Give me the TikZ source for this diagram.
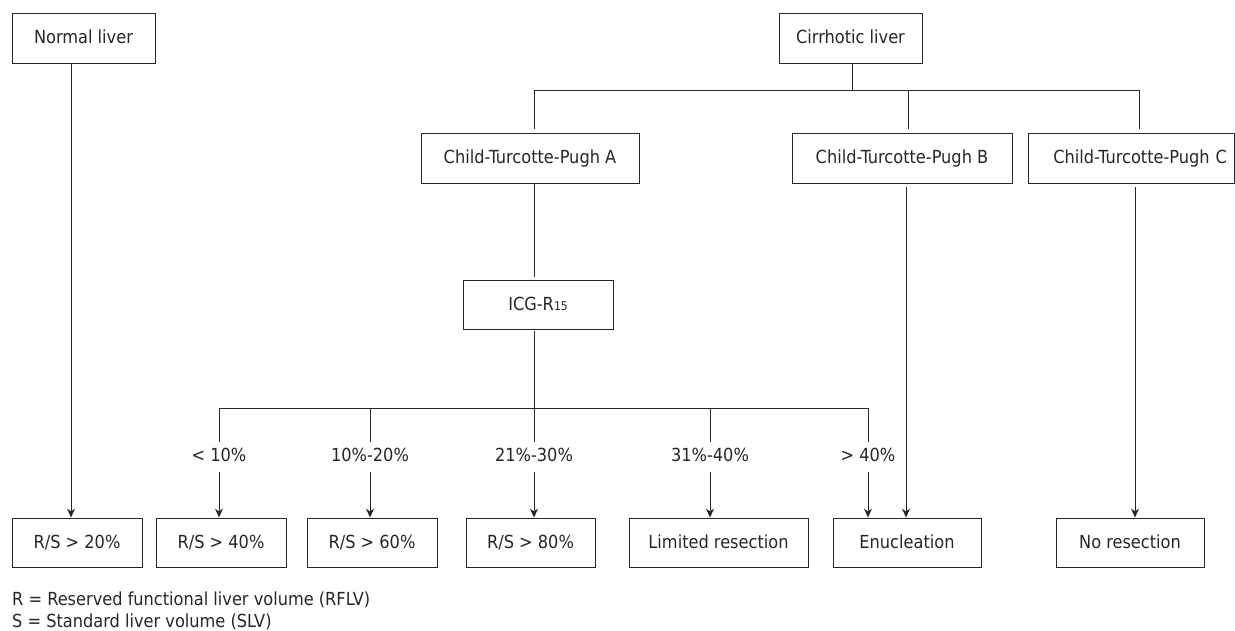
\documentclass[tikz,border=0pt]{standalone}
\usepackage{fontspec}
\setmainfont{DejaVu Sans Condensed}
\usetikzlibrary{arrows.meta}
\begin{document}
\begin{tikzpicture}[x=1pt,y=-1pt,
  font=\fontsize{18pt}{22pt}\selectfont,
  every path/.style={color=black!85},
  ln/.style={line width=0.9pt, draw=black!85},
  arr/.style={ln, -{Stealth[length=9pt,width=8pt,inset=3pt]}},
  box/.style={draw=black!85, line width=0.9pt, inner sep=0pt, text height=13pt, text depth=1pt, minimum height=50pt},
  lab/.style={inner sep=0pt, minimum height=30pt, text height=13pt, text depth=5pt}]
\useasboundingbox (0,0) rectangle (1235,631);
% top row
\node[box, minimum width=143pt] (normal) at (83.5,38) {Normal liver};
\node[box, minimum width=143pt] (cirr) at (850.5,38) {Cirrhotic liver};
% second row
\node[box, minimum width=218pt] (ctpA) at (530,158) {Child-Turcotte-Pugh A};
\node[box, minimum width=220pt] (ctpB) at (902,158) {Child-Turcotte-Pugh B};
\node[box, text width=192pt, align=right, inner xsep=7pt] (ctpC) at (1131,158) {Child-Turcotte-Pugh C};
% ICG
\node[box, minimum width=150pt, minimum height=49pt] (icg) at (538,304.5) {ICG-R\raisebox{-0.5pt}{\fontsize{12pt}{12pt}\selectfont 15}};
% labels
\node[lab] (l1) at (219,457) {< 10\%};
\node[lab] (l2) at (370,457) {10\%-20\%};
\node[lab] (l3) at (534,457) {21\%-30\%};
\node[lab] (l4) at (710,457) {31\%-40\%};
\node[lab] (l5) at (868,457) {> 40\%};
% bottom row
\node[box, minimum width=130pt, minimum height=49pt] (rs20) at (77,542.5) {R/S > 20\%};
\node[box, minimum width=130pt, minimum height=49pt] (rs40) at (221,542.5) {R/S > 40\%};
\node[box, minimum width=130pt, minimum height=49pt] (rs60) at (372,542.5) {R/S > 60\%};
\node[box, minimum width=129pt, minimum height=49pt] (rs80) at (530.5,542.5) {R/S > 80\%};
\node[box, minimum width=179pt, minimum height=49pt] (lim) at (718.5,542.5) {Limited resection};
\node[box, minimum width=148pt, minimum height=49pt] (enuc) at (907,542.5) {Enucleation};
\node[box, minimum width=148pt, minimum height=49pt] (nores) at (1130,542.5) {No resection};
% footnotes
\node[anchor=base west, inner sep=0pt] (f1) at (12,605) {R = Reserved functional liver volume (RFLV)};
\node[anchor=base west, inner sep=0pt] (f2) at (12,627) {S = Standard liver volume (SLV)};
% junction coordinates
\coordinate (xn) at (71,0);
\coordinate (cj) at (852,90);
\coordinate (jA) at (534,90);
\coordinate (jB) at (908,90);
\coordinate (jC) at (1139,90);
\coordinate (k) at (534,408);
\coordinate (b1) at (219,408);
\coordinate (b2) at (370,408);
\coordinate (b4) at (710,408);
\coordinate (b5) at (868,408);
\coordinate (xb) at (906,0);
\coordinate (xc) at (1135,0);
% connectors
\draw[arr] (normal.south -| xn) -- (rs20.north -| xn);
\draw[ln] (cirr.south -| cj) -- (cj);
\draw[ln] (jA) -- (jC);
\draw[ln, shorten >=4pt] (jA) -- (jA |- ctpA.north);
\draw[ln, shorten >=4pt] (jB) -- (jB |- ctpB.north);
\draw[ln, shorten >=4pt] (jC) -- (jC |- ctpC.north);
\draw[ln, shorten >=3pt] (ctpA.south -| jA) -- (icg.north -| jA);
\draw[ln, shorten <=2pt] (icg.south -| k) -- (k);
\draw[ln] (b1) -- (b5);
\draw[ln] (b1) -- (l1.north);
\draw[ln] (b2) -- (l2.north);
\draw[ln] (k) -- (l3.north);
\draw[ln] (b4) -- (l4.north);
\draw[ln] (b5) -- (l5.north);
\draw[arr] (l1.south) -- (rs40.north -| l1.south);
\draw[arr] (l2.south) -- (rs60.north -| l2.south);
\draw[arr] (l3.south) -- (rs80.north -| l3.south);
\draw[arr] (l4.south) -- (lim.north -| l4.south);
\draw[arr] (l5.south) -- (enuc.north -| l5.south);
\draw[arr, shorten <=4pt] (ctpB.south -| xb) -- (enuc.north -| xb);
\draw[arr, shorten <=4pt] (ctpC.south -| xc) -- (nores.north -| xc);
\end{tikzpicture}
\end{document}
